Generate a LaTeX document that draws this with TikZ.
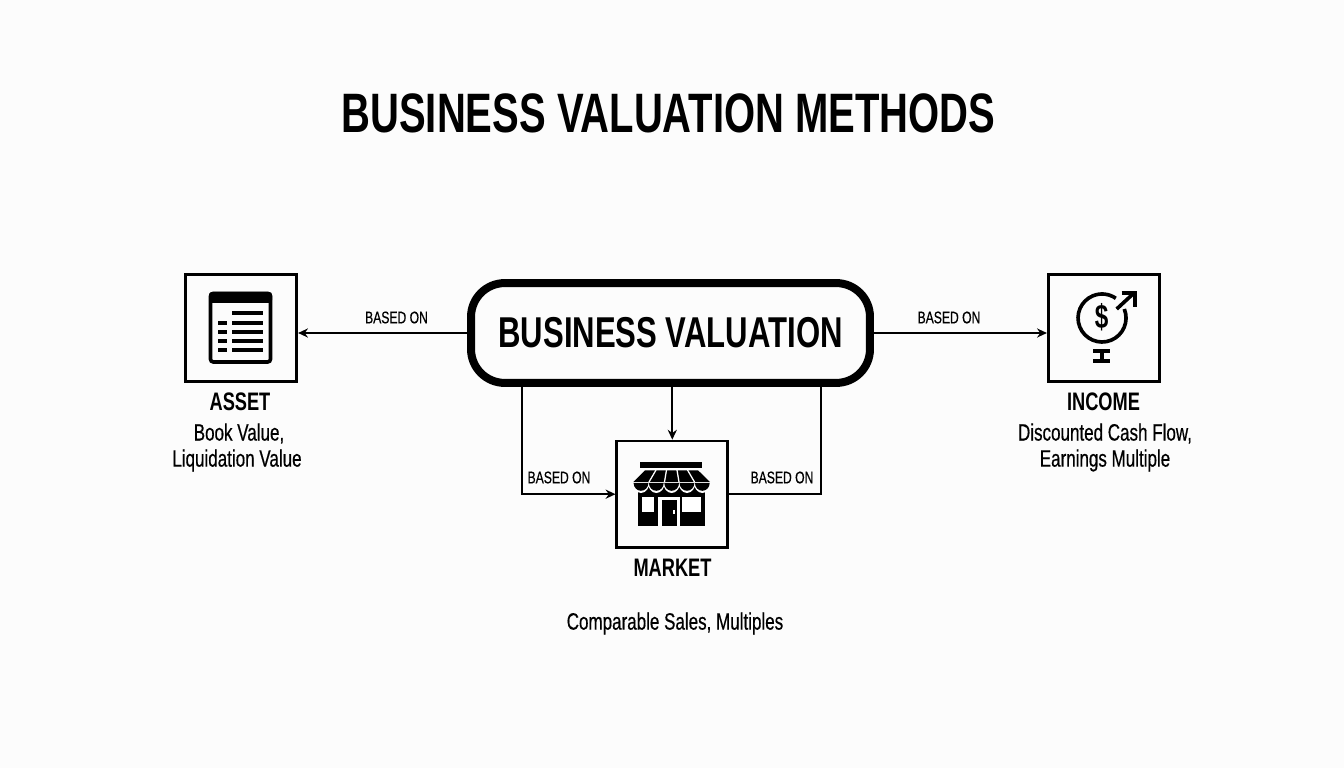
\documentclass[tikz,border=0pt]{standalone}
\usepackage{fontspec}
\setmainfont{Liberation Sans}[FakeStretch=0.72]
\newfontfamily\medfamily{Liberation Sans}[FakeStretch=0.72,FakeBold=0.5]
\usetikzlibrary{arrows.meta,calc,positioning}
\newcommand{\titlefont}{\fontsize{39.5}{44}\bfseries\selectfont}
\newcommand{\mainfont}{\fontsize{30.7}{32}\bfseries\selectfont}
\newcommand{\headfont}{\fontsize{18}{20}\bfseries\selectfont}
\newcommand{\subfont}{\medfamily\fontsize{16.8}{18}\selectfont}
\newcommand{\linkfont}{\medfamily\fontsize{12}{14}\selectfont}
\tikzset{
	methodbox/.style={draw,line width=1.9pt,minimum width=78.9pt,minimum height=75.7pt,inner sep=0pt},
	link/.style={line width=1.2pt,-{Stealth[length=7pt,width=6.5pt]}},
	plainlink/.style={line width=1.2pt},
	linklabel/.style={font=\linkfont,inner sep=0pt},
	heading/.style={font=\headfont,inner sep=0pt},
	subtext/.style={font=\subfont,inner sep=0pt},
	iconline/.style={line width=2.6pt},
}
\begin{document}
\begin{tikzpicture}[x=.025cm,y=-.025cm]
	\useasboundingbox[fill=white!99!black] (0,0) rectangle (1344,768);

	\node[font=\titlefont,inner sep=0pt] (title) at (668.5,113) {BUSINESS VALUATION METHODS};

	\node[draw,line width=5.7pt,rounded corners=24pt,minimum width=283.7pt,minimum height=71pt,inner sep=0pt,font=\mainfont] (main) at (670.5,333) {BUSINESS VALUATION};

	\node[methodbox] (asset) at (241.3,328) {};
	\node[methodbox] (income) at (1103.7,328) {};
	\node[methodbox] (market) at (672.3,494.2) {};

	% links
	\coordinate (mainleft) at (522,385);
	\coordinate (mainright) at (821,385);
	\draw[link] (main.west) -- (main.west -| asset.east);
	\draw[link] (main.east) -- (main.east -| income.west);
	\draw[link] (main.south -| market.north) -- (market.north);
	\draw[link] (mainleft) |- (market.west);
	\draw[plainlink] (mainright) |- (market.east);

	\node[linklabel] (labelasset) at (396.5,317.5) {BASED ON};
	\node[linklabel] (labelincome) at (949,317.5) {BASED ON};
	\node[linklabel] (labelleft) at (559,477.5) {BASED ON};
	\node[linklabel] (labelright) at (782,477.5) {BASED ON};

	% texts under the boxes
	\node[heading] (assethead) at (240,402) {ASSET};
	\node[subtext] (assetone) at (239,433.5) {Book Value,};
	\node[subtext] (assettwo) at (237,460.5) {Liquidation Value};
	\node[heading] (incomehead) at (1103.5,402) {INCOME};
	\node[subtext] (incomeone) at (1105,433.5) {Discounted Cash Flow,};
	\node[subtext] (incometwo) at (1105,460.5) {Earnings Multiple};
	\node[heading] (markethead) at (672.5,568) {MARKET};
	\node[subtext] (marketone) at (675,623.5) {Comparable Sales, Multiples};

	% table icon
	\draw[iconline,rounded corners=2pt] (210.5,293.5) rectangle (270.5,362);
	\fill[rounded corners=2pt] (209,292) rectangle (272,303);
	\foreach \y in {313.5,322.7,331.8,341,350}
		\fill (232,\y-2) rectangle (263,\y+2);
	\foreach \y in {322.7,331.8,341,350}
		\fill (218,\y-2) rectangle (227,\y+2);

	% income icon
	\draw[iconline] (1124.3,309) arc (-22:305:24);
	\node[font=\fontsize{24}{24}\bfseries\selectfont,inner sep=0pt] (dollar) at (1101.7,317.3) {\$};
	\draw[iconline] (1116.7,309) -- (1134,293);
	\draw[iconline] (1121.7,292.8) -- (1134.8,292.8) -- (1134.8,306.7);
	\draw[iconline] (1101.7,351) -- (1101.7,361);
	\draw[iconline] (1093,351) -- (1110.3,351);
	\draw[iconline] (1093,361) -- (1110.3,361);

	% store icon
	\fill (640,462.3) rectangle (702.3,467.7);
	\fill (638.3,484) rectangle (705,526);
	\foreach \i in {0,...,4}
		\fill[white] ({633.3+15.34*\i-.9},482) arc (180:0:8.57 and 11) -- cycle;
	\fill (645,470.3) -- (698,470.3) -- (710,482) -- (633.3,482) -- cycle;
	\foreach \a/\b in {656/649,666.5/664.5,677/679,687.5/694.5}
		\draw[white,line width=.9pt] (\a,470) -- (\b,482);
	\foreach \i in {0,...,4}
		\fill ({633.3+15.34*\i+.3},483) arc (180:0:7.37 and 7.8) -- cycle;
	\fill[white] (642.3,497.3) rectangle (654.3,511.7);
	\fill[white] (682.3,497.3) rectangle (701,511.7);
	\fill[white] (658.3,497) rectangle (680,526);
	\fill (661.7,500) rectangle (676.7,526);
	\fill[white] (672.7,510) rectangle (674.7,514.3);
\end{tikzpicture}
\end{document}
